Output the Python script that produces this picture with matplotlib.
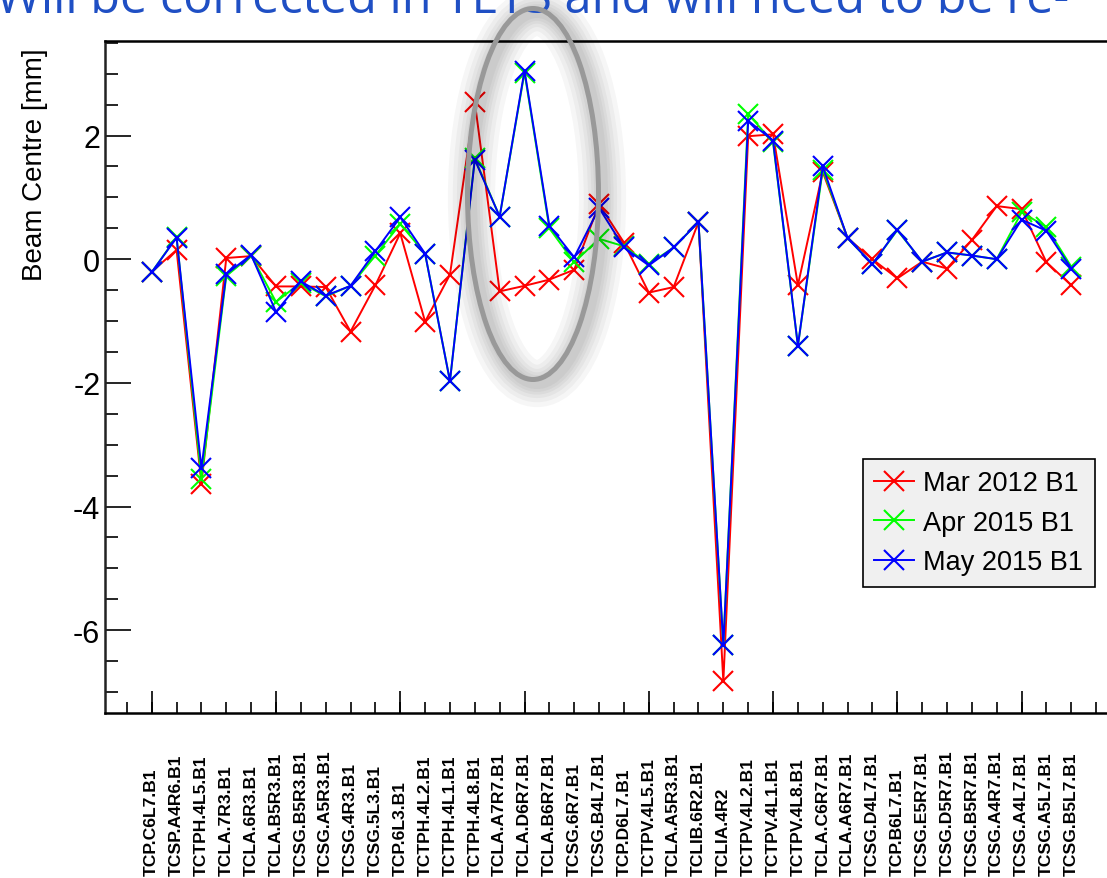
import matplotlib
matplotlib.use("Agg")
import matplotlib.pyplot as plt
from matplotlib.patches import Ellipse
import numpy as np

plt.rcParams['font.family'] = ['Liberation Sans', 'DejaVu Sans']

collimators = ["TCP.C6L7.B1", "TCSP.A4R6.B1", "TCTPH.4L5.B1", "TCLA.7R3.B1", "TCLA.6R3.B1",
               "TCLA.B5R3.B1", "TCSG.B5R3.B1", "TCSG.A5R3.B1", "TCSG.4R3.B1", "TCSG.5L3.B1",
               "TCP.6L3.B1", "TCTPH.4L2.B1", "TCTPH.4L1.B1", "TCTPH.4L8.B1", "TCLA.A7R7.B1",
               "TCLA.D6R7.B1", "TCLA.B6R7.B1", "TCSG.6R7.B1", "TCSG.B4L7.B1", "TCP.D6L7.B1",
               "TCTPV.4L5.B1", "TCLA.A5R3.B1", "TCLIB.6R2.B1", "TCLIA.4R2", "TCTPV.4L2.B1",
               "TCTPV.4L1.B1", "TCTPV.4L8.B1", "TCLA.C6R7.B1", "TCLA.A6R7.B1", "TCSG.D4L7.B1",
               "TCP.B6L7.B1", "TCSG.E5R7.B1", "TCSG.D5R7.B1", "TCSG.B5R7.B1", "TCSG.A4R7.B1",
               "TCSG.A4L7.B1", "TCSG.A5L7.B1", "TCSG.B5L7.B1"]

mar_2012_b1 = [-0.20, 0.15, -3.63, 0.02, 0.05, -0.44, -0.44, -0.45, -1.17, -0.42,
               0.42, -1.01, -0.25, 2.54, -0.52, -0.43, -0.33, -0.17, 0.89, 0.27,
               -0.54, -0.45, 0.60, -6.83, 1.99, 2.02, -0.42, 1.41, 0.34, 0.00,
               -0.31, -0.04, -0.15, 0.31, 0.86, 0.81, -0.05, -0.42]
apr_2015_b1 = [-0.21, 0.36, -3.55, -0.27, 0.06, -0.69, -0.38, -0.60, -0.43, 0.06,
               0.57, 0.09, -1.97, 1.63, 0.69, 3.02, 0.50, -0.05, 0.33, 0.21,
               -0.08, 0.19, 0.60, -6.24, 2.35, 1.89, -1.40, 1.45, 0.34, -0.08,
               0.47, -0.04, 0.11, 0.06, 0.00, 0.76, 0.52, -0.12]
may_2015_b1 = [-0.21, 0.35, -3.38, -0.24, 0.07, -0.85, -0.36, -0.59, -0.43, 0.13,
               0.68, 0.09, -1.97, 1.61, 0.69, 3.05, 0.54, 0.03, 0.83, 0.19,
               -0.10, 0.19, 0.60, -6.24, 2.24, 1.92, -1.40, 1.50, 0.34, -0.08,
               0.48, -0.04, 0.11, 0.06, 0.00, 0.64, 0.46, -0.15]

series_names = ["Mar 2012 B1", "Apr 2015 B1", "May 2015 B1"]
series_colors = ["#ff0000", "#00ff00", "#0000ff"]

y_ticks = [-6, -4, -2, 0, 2]
y_ticklabels = ["-6", "-4", "-2", "0", "2"]

W, H = 1107, 879
fig = plt.figure(figsize=(W / 100, H / 100), dpi=100)
ax = fig.add_axes([104.5 / W, 165 / H, 1014 / W, 672 / H])

x = np.arange(len(collimators))
for vals, name, col in zip([mar_2012_b1, apr_2015_b1, may_2015_b1], series_names, series_colors):
    ax.plot(x, vals, color=col, lw=1.4, marker='x', markersize=14.5, markeredgewidth=1.5,
            label=name, zorder=3)

ax.set_xlim(-1.9, 38.9)
ax.set_ylim(-7.34, 3.53)

# y axis
ax.set_yticks(y_ticks, y_ticklabels, fontsize=22)
ax.set_yticks(np.arange(-7, 3.51, 0.5), minor=True)
ax.tick_params(axis='y', which='major', direction='in', length=18.7, width=1.2, pad=3, right=False)
ax.tick_params(axis='y', which='minor', direction='in', length=9.4, width=1.2, right=False)

# x axis
ax.xaxis.remove_overlapping_locs = False
ax.set_xticks(np.arange(0, 36, 5), [""] * 8)
minor_pos = np.arange(-1, 39)
minor_labels = [""] + collimators + [""]
ax.set_xticks(minor_pos, minor_labels, minor=True, rotation=90, fontsize=12.6, fontweight='bold')
ax.tick_params(axis='x', which='major', direction='in', length=15.8, width=1.2, top=False)
ax.tick_params(axis='x', which='minor', direction='in', length=7.9, width=1.2, top=False, pad=117.0)
for lbl in ax.get_xticklabels(minor=True):
    lbl.set_va('bottom')

for s in ax.spines.values():
    s.set_linewidth(1.8)
    s.set_color('black')
ax.spines['left'].set_color('#222222')

ax.set_ylabel("Beam Centre [mm]", fontsize=20, va='center', ha='right')
ax.yaxis.set_label_coords((35 - 104.5) / 1014, (714 - 48) / 672)

leg = ax.legend(loc='upper left', bbox_to_anchor=(863 / W, 1 - 460 / H), bbox_transform=fig.transFigure,
                borderaxespad=0, fontsize=19.5, handlelength=1.48, handletextpad=0.33,
                labelspacing=0.5, borderpad=0.42, fancybox=False, edgecolor='black',
                facecolor='#f0f0f0', framealpha=1)
leg.get_frame().set_linewidth(1.2)

# highlight ellipse with soft shadow
cx, cy, ew, eh = 533 / W, 1 - 195 / H, 131 / W, 371 / H
for lw in [34, 27, 21, 16, 12, 8]:
    fig.patches.append(Ellipse((cx + 4 / W, cy - 4 / H), ew, eh, transform=fig.transFigure,
                               fill=False, edgecolor='black', lw=lw, alpha=0.035, zorder=1))
fig.patches.append(Ellipse((cx, cy), ew, eh, transform=fig.transFigure, fill=False,
                           edgecolor='#999999', lw=3.6, zorder=5))

fig.text(-0.004, 1 - 13 / H, "Will be corrected in YETS and will need to be re-",
         color='#1f4fc4', fontsize=35, family=['Open Sans', 'DejaVu Sans'],
         va='baseline', ha='left')

fig.savefig("out.png", dpi=100)
